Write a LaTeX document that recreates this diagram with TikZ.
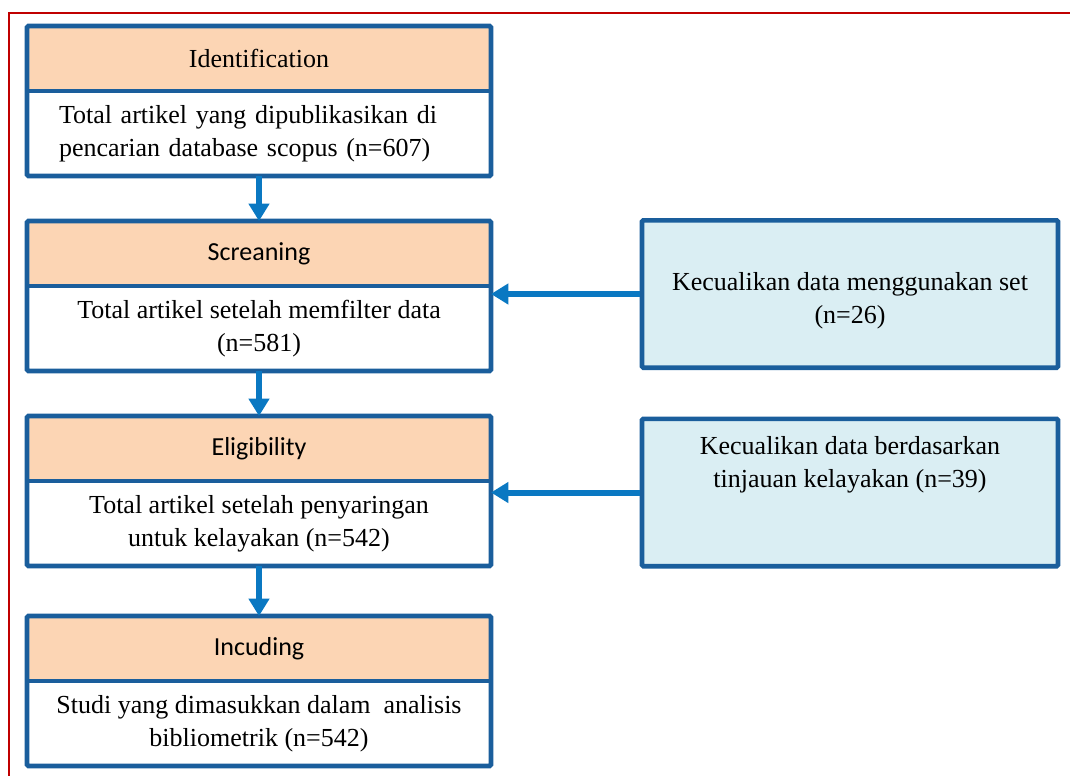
\documentclass[tikz,border=0pt]{standalone}
\usepackage{fontspec}
\setmainfont{Liberation Serif}
\newfontfamily\calibrifont{Carlito}
\usepackage{tikz}
\usetikzlibrary{arrows.meta,positioning}
\definecolor{prismablue}{HTML}{1A5E9C}
\definecolor{arrowblue}{HTML}{0A78C2}
\definecolor{headpeach}{HTML}{FCD5B4}
\definecolor{excllight}{HTML}{DAEEF3}
\definecolor{framered}{HTML}{C00000}

\begin{document}
\begin{tikzpicture}[
    x=0.75pt,y=-0.75pt,
    head/.style={draw=prismablue,line width=1.5pt,fill=headpeach,minimum width=346.5pt,
      minimum height=47.25pt,inner sep=0pt,font=\fontsize{19.5}{24}\selectfont},
    body/.style={draw=prismablue,line width=1.5pt,fill=white,minimum width=346.5pt,
      minimum height=62.25pt,inner sep=0pt,align=center,font=\fontsize{19.5}{24.75}\selectfont},
    outline/.style={draw=prismablue,line width=3.5pt,rounded corners=1pt},
    excl/.style={draw=prismablue,line width=3.5pt,fill=excllight,rounded corners=1pt,
      minimum width=312pt,minimum height=110.5pt},
    excltext/.style={align=center,font=\fontsize{19.5}{24.75}\selectfont},
    flow/.style={-{Triangle[width=15pt,length=13pt]},arrowblue,line width=4.5pt},
    frame/.style={framered,line width=1.5pt},
  ]
    \useasboundingbox (0,0) rectangle (1070,776);
    \draw[frame] (1070,13) -- (9,13) -- (9,776);

    \node[head] (idhead) at (259,58.5) {Identification};
    \node[body,below=0pt of idhead,align=left,text width=300pt] (idbody)
      {Total artikel yang dipublikasikan di\\pencarian database scopus (n=607)};
    \draw[outline] (idhead.north west) rectangle (idbody.south east);

    \node[head,font=\calibrifont\fontsize{19.5}{24}\selectfont] (scrhead) at (259,253.5) {Screaning};
    \node[body,below=0pt of scrhead] (scrbody)
      {Total artikel setelah memfilter data\\(n=581)};
    \draw[outline] (scrhead.north west) rectangle (scrbody.south east);

    \node[head,font=\calibrifont\fontsize{19.5}{24}\selectfont] (elghead) at (259,448.5) {Eligibility};
    \node[body,below=0pt of elghead] (elgbody)
      {Total artikel setelah penyaringan\\untuk kelayakan (n=542)};
    \draw[outline] (elghead.north west) rectangle (elgbody.south east);

    \node[head,font=\calibrifont\fontsize{19.5}{24}\selectfont] (inchead) at (259,648.5) {Incuding};
    \node[body,below=0pt of inchead] (incbody)
      {Studi yang dimasukkan dalam~ analisis\\bibliometrik (n=542)};
    \draw[outline] (inchead.north west) rectangle (incbody.south east);

    \node[excl] (excl1) at (850,294) {};
    \node[excltext] (excl1txt) at (850,301) {Kecualikan data menggunakan set\\(n=26)};
    \node[excl] (excl2) at (850,492.5) {};
    \node[excltext] (excl2txt) at (850,465) {Kecualikan data berdasarkan\\tinjauan kelayakan (n=39)};

    \draw[flow] (idbody.south) -- (scrhead.north);
    \draw[flow] (scrbody.south) -- (elghead.north);
    \draw[flow] (elgbody.south) -- (inchead.north);
    \draw[flow] (excl1.west) -- (excl1.west -| scrbody.east);
    \draw[flow] (excl2.west) -- (excl2.west -| elgbody.east);
  \end{tikzpicture}
\end{document}
